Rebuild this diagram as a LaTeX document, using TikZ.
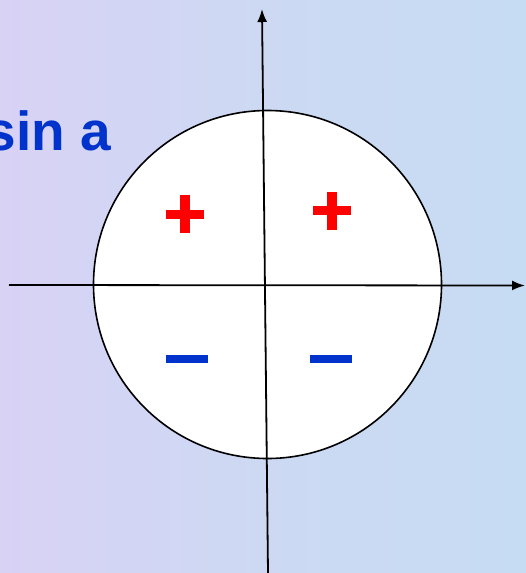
\documentclass[tikz,border=0pt]{standalone}
\usepackage{fontspec}
\usepackage{xcolor}
\usetikzlibrary{arrows.meta}
\newfontfamily\labelfont{Liberation Sans}
\definecolor{skyback}{HTML}{CDD9F3}
\definecolor{lavender}{HTML}{D8D2F5}
\definecolor{paleblue}{HTML}{C6DCF2}
\definecolor{signred}{HTML}{FF0000}
\definecolor{signblue}{HTML}{0033CC}

\begin{document}
\begin{tikzpicture}[x=1pt,y=-1pt,
    axis/.style={black, line width=1.8pt, -{Latex[length=13pt,width=10pt]}},
    plusbar/.style={fill=signred},
    minusbar/.style={fill=signblue}]
  % backdrop
  \shade[left color=lavender, right color=paleblue, middle color=skyback] (0,0) rectangle (526,573);
  \useasboundingbox (0,0) rectangle (526,573);
  % unit circle
  \node[circle, draw=black, fill=white, line width=1.6pt, minimum size=348pt, inner sep=0pt] (unit) at (267.5,284.5) {};
  % axis ends
  \coordinate (xstart) at (9,285);
  \coordinate (xend) at (525,285.5);
  \coordinate (ystart) at (268,573);
  \coordinate (yend) at (262,9);
  \draw[axis] (xstart) -- (xend);
  \draw[axis] (ystart) -- (yend);
  % signs of the quadrants
  \foreach \x/\y in {185/214, 331.5/210.5}{
    \fill[plusbar] (\x-19,\y-4.5) rectangle (\x+19,\y+4.5);
    \fill[plusbar] (\x-5,\y-19) rectangle (\x+5,\y+19);
  }
  \foreach \x/\y in {187/359, 331/359}{
    \fill[minusbar] (\x-21,\y-4) rectangle (\x+21,\y+4);
  }
  \node[anchor=base east, inner sep=0pt, text=signblue,
        font=\labelfont\bfseries\fontsize{55}{60}\selectfont] (sinlabel) at (111,150) {sin a};
\end{tikzpicture}
\end{document}
